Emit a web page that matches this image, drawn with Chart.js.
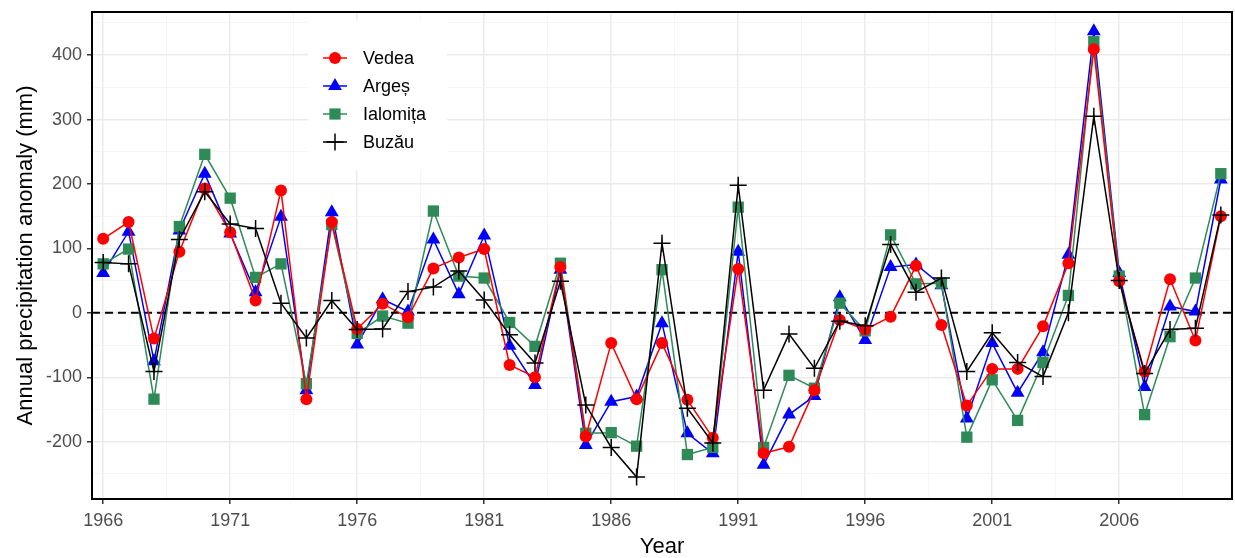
<!DOCTYPE html>
<html>
<head>
<meta charset="utf-8">
<style>
  html, body { margin: 0; padding: 0; background: #fff; }
  #wrap { width: 1235px; height: 558px; }
</style>
</head>
<body>
<div id="wrap">
    <canvas id="anomaly-chart" width="1235" height="558"></canvas>
</div>

<script src="https://cdn.jsdelivr.net/npm/chart.js"></script>

<script>
    // Annual precipitation anomaly (mm), 1966-2010
    const years = [];
    for (let y = 1966; y <= 2010; y++) years.push(y);

    const vedea = [115, 141, -40, 95, 193, 125, 19, 190, -134, 141,
                   -25, 14, -7, 69, 86, 99, -81, -100, 71, -192,
                   -47, -134, -47, -135, -194, 68, -218, -208, -120, -11,
                   -26, -6, 73, -19, -144, -87, -87, -21, 77, 409,
                   49, -91, 52, -43, 150];
    const arges = [62, 126, -75, 128, 216, 123, 32, 149, -120, 156,
                   -49, 21, 2, 114, 29, 120, -51, -112, 67, -205,
                   -138, -130, -16, -187, -218, 95, -236, -158, -129, 24,
                   -42, 71, 75, 43, -164, -47, -124, -61, 90, 437,
                   62, -115, 10, 2, 207];
    const ialomita = [76, 99, -134, 134, 246, 178, 55, 76, -110, 137,
                      -32, -5, -16, 158, 57, 54, -15, -52, 77, -187,
                      -186, -207, 67, -220, -209, 164, -209, -97, -117, 15,
                      -28, 121, 45, 46, -193, -104, -167, -77, 27, 421,
                      57, -158, -37, 54, 216];
    const buzau = [78, 76, -91, 114, 188, 138, 131, 15, -39, 19,
                   -26, -25, 33, 40, 65, 20, -34, -78, 49, -143,
                   -209, -255, 108, -148, -202, 198, -120, -33, -86, -13,
                   -20, 106, 32, 54, -91, -31, -77, -99, 0, 305,
                   50, -94, -26, -24, 152];

    const yearTicks = [1966, 1971, 1976, 1981, 1986, 1991, 1996, 2001, 2006];
    const valueTicks = [-200, -100, 0, 100, 200, 300, 400];

    const xMin = 1965.56, xMax = 2010.44;
    const yMin = -289, yMax = 467;

    const FONT = '"Liberation Sans", Arial, sans-serif';
    const GREY = '#4D4D4D';

    const toXY = (vals) => vals.map((v, i) => ({ x: years[i], y: v }));

    const series = [
        { label: 'Vedea', data: vedea, color: '#FF0000', style: 'circle', radius: 6, order: 1 },
        { label: 'Argeș', data: arges, color: '#0000FF', style: 'triangle', radius: 8, order: 3 },
        { label: 'Ialomița', data: ialomita, color: '#2E8B57', style: 'rect', radius: 8, order: 2 },
        { label: 'Buzău', data: buzau, color: '#000000', style: 'cross', radius: 8.5, order: 0 }
    ];

    // minor + major ticks (major ones carry labels)
    const xGrid = [];
    for (let v = yearTicks[0]; v <= xMax; v += 2.5) xGrid.push(v);
    const yGrid = [];
    for (let v = valueTicks[0] - 50; v <= yMax; v += 50) yGrid.push(v);

    const isMajorX = (v) => yearTicks.includes(v);
    const isMajorY = (v) => valueTicks.includes(v);

    const datasets = series.map(s => ({
        label: s.label,
        data: toXY(s.data),
        borderColor: s.color,
        backgroundColor: s.color,
        borderWidth: 1.5,
        pointStyle: s.style,
        pointRadius: s.radius,
        pointHoverRadius: s.radius,
        pointBackgroundColor: s.color,
        pointBorderColor: s.color,
        pointBorderWidth: s.style === 'cross' ? 1.5 : 0,
        tension: 0,
        order: s.order,
        clip: false
    }));

    datasets.push({
        label: 'zero',
        data: [{ x: xMin, y: 0 }, { x: xMax, y: 0 }],
        borderColor: '#000000',
        borderWidth: 2,
        borderDash: [8, 5],
        pointRadius: 0,
        order: 9
    });

    // legend drawn inside the panel, like ggplot's legend.position
    const insideLegend = {
        id: 'insideLegend',
        afterDatasetsDraw(chart) {
            const ctx = chart.ctx;
            ctx.save();
            ctx.fillStyle = '#ffffff';
            ctx.fillRect(308, 20, 139, 150);
            series.forEach((s, i) => {
                const y = 58 + i * 28;
                ctx.strokeStyle = s.color;
                ctx.fillStyle = s.color;
                ctx.lineWidth = 1.5;
                ctx.beginPath();
                ctx.moveTo(323, y);
                ctx.lineTo(347, y);
                ctx.stroke();
                const cx = 335;
                ctx.beginPath();
                if (s.style === 'circle') {
                    ctx.arc(cx, y, 6, 0, Math.PI * 2);
                    ctx.fill();
                } else if (s.style === 'triangle') {
                    ctx.moveTo(cx, y - 8);
                    ctx.lineTo(cx + 6.9, y + 4);
                    ctx.lineTo(cx - 6.9, y + 4);
                    ctx.closePath();
                    ctx.fill();
                } else if (s.style === 'rect') {
                    ctx.fillRect(cx - 5.6, y - 5.6, 11.2, 11.2);
                } else {
                    ctx.moveTo(cx - 8.5, y);
                    ctx.lineTo(cx + 8.5, y);
                    ctx.moveTo(cx, y - 8.5);
                    ctx.lineTo(cx, y + 8.5);
                    ctx.stroke();
                }
                ctx.fillStyle = '#000000';
                ctx.font = '18px ' + FONT;
                ctx.textBaseline = 'middle';
                ctx.textAlign = 'left';
                ctx.fillText(s.label, 363, y + 1);
            });
            ctx.restore();
        }
    };

    const panelBorder = {
        id: 'panelBorder',
        afterDraw(chart) {
            const { left, top, right, bottom } = chart.chartArea;
            const ctx = chart.ctx;
            ctx.save();
            ctx.strokeStyle = '#000000';
            ctx.lineWidth = 2;
            ctx.strokeRect(left, top, right - left, bottom - top);
            ctx.restore();
        }
    };

    const ctx = document.getElementById('anomaly-chart');

    new Chart(ctx, {
        type: 'line',
        data: { datasets },
        options: {
            responsive: false,
            animation: false,
            events: [],
            layout: {
                autoPadding: false,
                padding: { top: 12, right: 3, left: 0, bottom: 0 }
            },
            plugins: {
                legend: { display: false },
                tooltip: { enabled: false }
            },
            scales: {
                x: {
                    type: 'linear',
                    min: xMin,
                    max: xMax,
                    afterBuildTicks: (scale) => {
                        scale.ticks = xGrid.map(v => ({ value: v }));
                    },
                    afterFit: (scale) => {
                        scale.height = 59;
                        scale.paddingLeft = 0;
                        scale.paddingRight = 0;
                    },
                    ticks: {
                        autoSkip: false,
                        maxRotation: 0,
                        padding: 6,
                        color: GREY,
                        font: { family: FONT, size: 18 },
                        callback: (v) => isMajorX(v) ? String(v) : ''
                    },
                    grid: {
                        color: (c) => isMajorX(c.tick.value) ? '#EBEBEB' : '#F3F3F3',
                        lineWidth: (c) => isMajorX(c.tick.value) ? 1.5 : 0.8,
                        tickColor: (c) => isMajorX(c.tick.value) ? '#333333' : 'rgba(0,0,0,0)',
                        tickLength: 5,
                        tickWidth: 1.5
                    },
                    border: { display: false },
                    title: {
                        display: true,
                        text: 'Year',
                        color: '#000000',
                        font: { family: FONT, size: 22 },
                        padding: { top: 0, bottom: -2 }
                    }
                },
                y: {
                    type: 'linear',
                    min: yMin,
                    max: yMax,
                    afterBuildTicks: (scale) => {
                        scale.ticks = yGrid.map(v => ({ value: v }));
                    },
                    afterFit: (scale) => {
                        scale.width = 92;
                        scale.paddingTop = 0;
                        scale.paddingBottom = 0;
                    },
                    ticks: {
                        autoSkip: false,
                        padding: 5,
                        color: GREY,
                        font: { family: FONT, size: 18 },
                        callback: (v) => isMajorY(v) ? String(v) : ''
                    },
                    grid: {
                        color: (c) => isMajorY(c.tick.value) ? '#EBEBEB' : '#F3F3F3',
                        lineWidth: (c) => isMajorY(c.tick.value) ? 1.5 : 0.8,
                        tickColor: (c) => isMajorY(c.tick.value) ? '#333333' : 'rgba(0,0,0,0)',
                        tickLength: 5,
                        tickWidth: 1.5
                    },
                    border: { display: false },
                    title: {
                        display: true,
                        text: 'Annual precipitation anomaly (mm)',
                        color: '#000000',
                        font: { family: FONT, size: 22 },
                        padding: { top: 13, bottom: 0 }
                    }
                }
            }
        },
        plugins: [insideLegend, panelBorder]
    });
</script>
</body>
</html>
